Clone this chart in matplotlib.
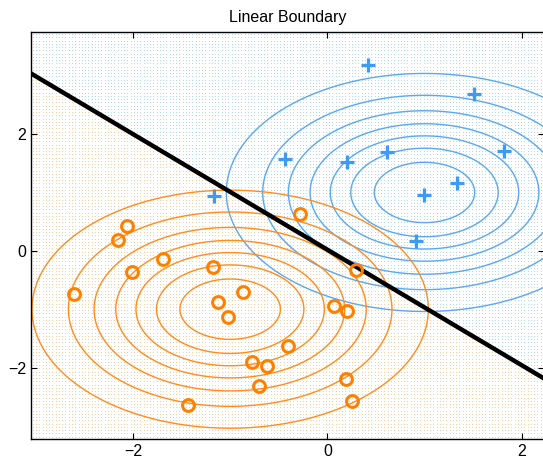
import numpy as np
import matplotlib
matplotlib.use('Agg')
import matplotlib.pyplot as plt

plt.rcParams['font.family'] = ['Liberation Sans', 'DejaVu Sans']

# punti della classe "blu" (+) e "arancio" (o)
blue_x = [0.42, 1.51, -0.44, 0.20, 0.61, 1.82, 1.33, 0.99, 0.91, -1.17]
blue_y = [3.18, 2.69, 1.57, 1.52, 1.69, 1.71, 1.17, 0.96, 0.17, 0.94]
orange_x = [-0.28, -2.06, -2.15, -1.69, -2.01, -1.18, -2.61, -0.87, -1.13, -1.02,
            0.30, 0.07, 0.20, -0.41, -0.78, -0.62, -0.70, 0.19, -1.43, 0.25]
orange_y = [0.63, 0.42, 0.19, -0.14, -0.37, -0.27, -0.74, -0.70, -0.87, -1.14,
            -0.33, -0.94, -1.03, -1.63, -1.91, -1.98, -2.31, -2.19, -2.64, -2.57]

# centri delle gaussiane e livelli dei contorni (frazione del picco)
blue_center = (1.0, 1.0)
orange_center = (-1.0, -1.0)
sigma = 1.0
levels = [1/8, 2/8, 3/8, 4/8, 5/8, 6/8, 7/8]

# frontiera lineare y = slope * x + intercept
slope = -0.99
intercept = 0.02

xlim = (-3.05, 2.23)
ylim = (-3.23, 3.75)
xticks = [-2, 0, 2]
yticks = [-2, 0, 2]

BLUE = '#3d9bf5'
ORANGE = '#ff8000'
BLUE_LINE = '#5aa8f0'
ORANGE_LINE = '#ff8c1f'
BLUE_DOT = '#b0d6f8'
ORANGE_DOT = '#fdcc9c'

fig = plt.figure(figsize=(5.43, 4.61), dpi=100)
ax = fig.add_axes([31/543, 21.7/461, 513/543, 407.3/461])

# griglia di punti colorata secondo la classificazione
gx = np.linspace(xlim[0] + 0.02, xlim[1], 158)
gy = np.linspace(ylim[0] + 0.03, ylim[1], 126)
GX, GY = np.meshgrid(gx, gy)
above = GY > slope * GX + intercept
ax.plot(GX[above], GY[above], ',', color=BLUE_DOT, zorder=0)
ax.plot(GX[~above], GY[~above], ',', color=ORANGE_DOT, zorder=0)

# contorni delle due densita'
cx = np.linspace(xlim[0], xlim[1], 300)
cy = np.linspace(ylim[0], ylim[1], 300)
CX, CY = np.meshgrid(cx, cy)
zb = np.exp(-((CX - blue_center[0])**2 + (CY - blue_center[1])**2) / (2 * sigma**2))
zo = np.exp(-((CX - orange_center[0])**2 + (CY - orange_center[1])**2) / (2 * sigma**2))
ax.contour(CX, CY, zb, levels=levels, colors=BLUE_LINE, linewidths=1.0, zorder=1)
ax.contour(CX, CY, zo, levels=levels, colors=ORANGE_LINE, linewidths=1.0, zorder=1)

# frontiera
lx = np.array(xlim)
ax.plot(lx, slope * lx + intercept, color='black', linewidth=3.2, zorder=2)

# punti
ax.plot(blue_x, blue_y, '+', color=BLUE, markersize=9.5, markeredgewidth=2.3, zorder=3)
ax.plot(orange_x, orange_y, 'o', color=ORANGE, markerfacecolor='none',
        markersize=8.5, markeredgewidth=2.2, zorder=3)

ax.set_xlim(xlim)
ax.set_ylim(ylim)
ax.set_xticks(xticks)
ax.set_yticks(yticks)
ax.set_xticklabels(['\u22122', '0', '2'])
ax.set_yticklabels(['\u22122', '0', '2'])
ax.tick_params(direction='in', top=True, right=True, labelsize=11.5, length=4, width=0.8)
for s in ax.spines.values():
    s.set_linewidth(1.0)
ax.set_title('Linear Boundary', fontsize=11.5, pad=7)

fig.savefig('out.png', dpi=100)
